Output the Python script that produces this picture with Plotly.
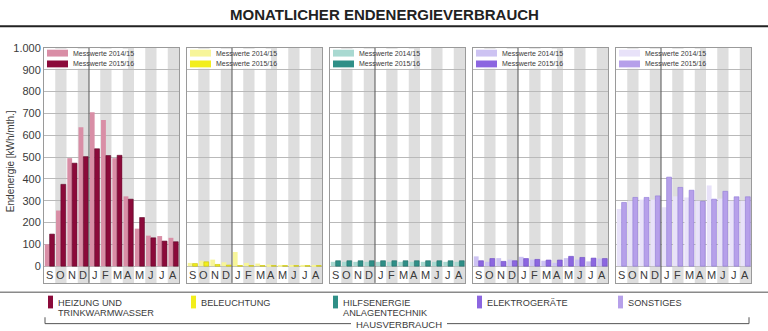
import plotly.graph_objects as go

# ---------------- data ----------------
months = ["S", "O", "N", "D", "J", "F", "M", "A", "M", "J", "J", "A"]
y_ticks = [0, 100, 200, 300, 400, 500, 600, 700, 800, 900, 1000]
y_tick_labels = ["0", "100", "200", "300", "400", "500", "600", "700", "800", "900", "1.000"]

heizung_1415 = [100, 255, 495, 637, 705, 670, 495, 320, 172, 140, 138, 130]
heizung_1516 = [147, 375, 472, 502, 538, 507, 508, 307, 223, 130, 115, 112]

beleuchtung_1415 = [15, 25, 30, 18, 65, 15, 12, 8, 5, 5, 5, 5]
beleuchtung_1516 = [12, 20, 8, 5, 3, 3, 3, 3, 3, 3, 3, 3]

hilfsenergie_1415 = [20, 20, 20, 20, 20, 20, 20, 20, 20, 20, 20, 20]
hilfsenergie_1516 = [25, 25, 25, 25, 25, 25, 25, 25, 25, 25, 25, 25]

elektro_1415 = [45, 20, 37, 30, 43, 30, 25, 15, 37, 30, 22, 35]
elektro_1516 = [25, 35, 22, 25, 35, 31, 28, 28, 45, 40, 37, 35]

sonstiges_1415 = [262, 300, 305, 305, 270, 320, 315, 300, 370, 310, 300, 300]
sonstiges_1516 = [292, 315, 315, 322, 408, 361, 348, 297, 307, 343, 318, 318]

series_names = ["Messwerte 2014/15", "Messwerte 2015/16"]
category_labels = [
    ["HEIZUNG UND", "TRINKWARMWASSER"],
    ["BELEUCHTUNG"],
    ["HILFSENERGIE", "ANLAGENTECHNIK"],
    ["ELEKTROGERÄTE"],
    ["SONSTIGES"],
]
title_text = "MONATLICHER ENDENERGIEVERBRAUCH"
y_title = "Endenergie [kWh/mth.]"
group_label = "HAUSVERBRAUCH"

panels = [
    (heizung_1415, heizung_1516),
    (beleuchtung_1415, beleuchtung_1516),
    (hilfsenergie_1415, hilfsenergie_1516),
    (elektro_1415, elektro_1516),
    (sonstiges_1415, sonstiges_1516),
]
light_colors = ["#d98ea6", "#f7f59a", "#a9d9d1", "#cdc3f2", "#e8e2f9"]
dark_colors = ["#8b0a3a", "#f2ee1c", "#2f8f87", "#8c66e0", "#b6a0ea"]
dark_lines = ["#5e0628", "#c9c200", "#1f6c66", "#6a48c2", "#8f78d6"]

# ---------------- geometry ----------------
W, H = 768, 331
def px(x):
    return x / W
def py(y):
    return 1 - y / H

panel_left = [44, 187, 330, 473, 616]
panel_w = 135
top_px, bottom_px = 42.7, 282.0
y_min, y_max = -76.5, 1000
x_idx = list(range(len(months)))

fig = go.Figure()
shapes = []
annotations = []
FONT = "Liberation Sans, Arial, sans-serif"
TXT = "#3a3a3a"

for k, (s_old, s_new) in enumerate(panels):
    n = "" if k == 0 else str(k + 1)
    xa, ya = "x" + n, "y" + n
    fig.add_trace(go.Bar(x=x_idx, y=s_old, name=series_names[0], xaxis=xa, yaxis=ya,
                         marker=dict(color=light_colors[k], line=dict(width=0)),
                         showlegend=False, hoverinfo="y"))
    fig.add_trace(go.Bar(x=x_idx, y=s_new, name=series_names[1], xaxis=xa, yaxis=ya,
                         marker=dict(color=dark_colors[k], line=dict(width=0.6, color=dark_lines[k])),
                         showlegend=False, hoverinfo="y"))
    x0 = px(panel_left[k]); x1 = px(panel_left[k] + panel_w)
    fig.layout["xaxis" + n] = dict(
        domain=[x0, x1], range=[-0.5, 11.5], anchor=ya, showgrid=False, zeroline=False,
        showticklabels=False, ticks="", showline=True, mirror=True, linecolor="#9a9a9a",
        linewidth=1, fixedrange=True)
    fig.layout["yaxis" + n] = dict(
        domain=[py(bottom_px), py(top_px)], range=[y_min, y_max], anchor=xa,
        tickvals=y_ticks, ticktext=y_tick_labels, showticklabels=(k == 0),
        showgrid=True, gridcolor="#b9b9b9", gridwidth=1, zeroline=False, ticks="",
        showline=True, mirror=True, linecolor="#9a9a9a", linewidth=1,
        tickfont=dict(family=FONT, size=11, color=TXT), fixedrange=True)
    # stripes on alternating months
    for i in x_idx:
        if i % 2 == 1:
            shapes.append(dict(type="rect", xref=xa, yref="paper", x0=i - 0.5, x1=i + 0.5,
                               y0=py(bottom_px), y1=py(top_px), fillcolor="#dedede",
                               line=dict(width=0), layer="below"))
    # in-panel legend box
    lx = panel_left[k]
    shapes.append(dict(type="rect", xref="paper", yref="paper", x0=px(lx + 1), x1=px(lx + 84),
                       y0=py(64), y1=py(43.5), fillcolor="white", line=dict(width=0), layer="below"))
    for j, (c, yc) in enumerate([(light_colors[k], 48), (dark_colors[k], 59)]):
        shapes.append(dict(type="rect", xref="paper", yref="paper", x0=px(lx + 3), x1=px(lx + 24),
                           y0=py(yc + 3.5), y1=py(yc - 3.5), fillcolor=c, line=dict(width=0)))
        annotations.append(dict(xref="paper", yref="paper", x=px(lx + 27), y=py(yc),
                                text=series_names[j], showarrow=False, xanchor="left",
                                yanchor="middle", font=dict(family=FONT, size=7, color=TXT)))
    # year separator line D | J
    shapes.append(dict(type="line", xref=xa, yref="paper", x0=3.5, x1=3.5,
                       y0=py(bottom_px), y1=py(top_px), line=dict(color="#555555", width=1)))
    # month labels
    for i, m in enumerate(months):
        annotations.append(dict(xref=xa, yref=ya, x=i, y=-42, text=m, showarrow=False,
                                xanchor="center", yanchor="middle",
                                font=dict(family=FONT, size=11, color=TXT)))

# title and its rule
annotations.append(dict(xref="paper", yref="paper", x=0.5, y=py(9), text="<b>" + title_text + "</b>",
                        showarrow=False, xanchor="center", yanchor="middle",
                        font=dict(family=FONT, size=15, color="#222222")))
shapes.append(dict(type="line", xref="paper", yref="paper", x0=0, x1=1, y0=py(20.5), y1=py(20.5),
                   line=dict(color="#222222", width=2)))

# y axis title
annotations.append(dict(xref="paper", yref="paper", x=px(10), y=py(158), text=y_title,
                        showarrow=False, textangle=-90, xanchor="center", yanchor="middle",
                        font=dict(family=FONT, size=10, color=TXT)))

# bottom legend
shapes.append(dict(type="line", xref="paper", yref="paper", x0=0, x1=1, y0=py(291.5), y1=py(291.5),
                   line=dict(color="#8a8a8a", width=1.5)))
leg_x = [48, 191, 333, 477, 618]
for k, lines in enumerate(category_labels):
    shapes.append(dict(type="rect", xref="paper", yref="paper", x0=px(leg_x[k]), x1=px(leg_x[k] + 5),
                       y0=py(308), y1=py(295), fillcolor=dark_colors[k], line=dict(width=0)))
    for li, t in enumerate(lines):
        annotations.append(dict(xref="paper", yref="paper", x=px(leg_x[k] + 8), y=py(302.5 + li * 10),
                                text=t, showarrow=False, xanchor="left", yanchor="middle",
                                font=dict(family=FONT, size=9.2, color=TXT)))

# bracket HAUSVERBRAUCH
bc = "#555555"
shapes += [
    dict(type="line", xref="paper", yref="paper", x0=px(45), x1=px(45), y0=py(317), y1=py(323.5),
         line=dict(color=bc, width=1)),
    dict(type="line", xref="paper", yref="paper", x0=px(45), x1=px(351), y0=py(323.5), y1=py(323.5),
         line=dict(color=bc, width=1)),
    dict(type="line", xref="paper", yref="paper", x0=px(447), x1=px(749), y0=py(323.5), y1=py(323.5),
         line=dict(color=bc, width=1)),
    dict(type="line", xref="paper", yref="paper", x0=px(749), x1=px(749), y0=py(317), y1=py(323.5),
         line=dict(color=bc, width=1)),
]
annotations.append(dict(xref="paper", yref="paper", x=px(399), y=py(324), text=group_label,
                        showarrow=False, xanchor="center", yanchor="middle",
                        font=dict(family=FONT, size=9.5, color=TXT)))

fig.update_layout(
    width=W, height=H, margin=dict(l=0, r=0, t=0, b=0, pad=0),
    paper_bgcolor="white", plot_bgcolor="white",
    barmode="group", bargap=0.14, bargroupgap=0,
    shapes=shapes, annotations=annotations, showlegend=False,
    font=dict(family=FONT, color=TXT),
)
fig.write_html("out.html", config={"displayModeBar": False})
